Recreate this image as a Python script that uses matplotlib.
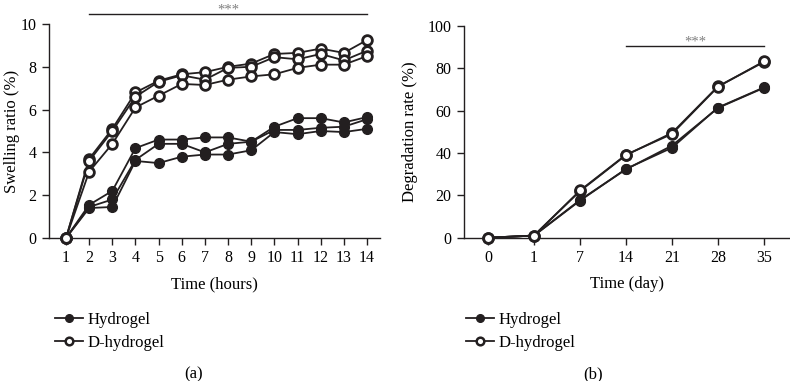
import matplotlib
matplotlib.use("Agg")
import matplotlib.pyplot as plt
from matplotlib.lines import Line2D

plt.rcParams['font.family'] = ['Liberation Serif', 'DejaVu Serif']
plt.rcParams['font.size'] = 12

INK = '#231f20'

# swelling ratio (%) vs time (hours), three replicates per group
hours = list(range(1, 15))
hydrogel_1 = [0, 1.55, 2.2, 4.2, 4.6, 4.6, 4.7, 4.7, 4.5, 5.2, 5.6, 5.6, 5.4, 5.65]
hydrogel_2 = [0, 1.45, 1.8, 3.65, 4.4, 4.4, 4.0, 4.4, 4.5, 5.05, 5.05, 5.15, 5.2, 5.55]
hydrogel_3 = [0, 1.4, 1.45, 3.6, 3.5, 3.8, 3.9, 3.9, 4.1, 4.95, 4.85, 5.0, 4.95, 5.1]
dhydrogel_1 = [0, 3.7, 5.1, 6.8, 7.35, 7.65, 7.75, 8.0, 8.15, 8.6, 8.65, 8.85, 8.65, 9.25]
dhydrogel_2 = [0, 3.6, 5.0, 6.6, 7.3, 7.6, 7.4, 7.95, 8.0, 8.45, 8.35, 8.6, 8.3, 8.75]
dhydrogel_3 = [0, 3.1, 4.4, 6.1, 6.65, 7.2, 7.15, 7.4, 7.55, 7.65, 7.95, 8.1, 8.1, 8.5]

# degradation rate (%) vs time (day), two replicates per group
days = ['0', '1', '7', '14', '21', '28', '35']
deg_hydrogel_1 = [0, 1, 17.5, 32.5, 42.5, 61.5, 71]
deg_hydrogel_2 = [0, 1, 17.8, 32.3, 43.5, 61.3, 70.8]
deg_dhydrogel_1 = [0, 1, 22, 39, 49.5, 71.5, 83]
deg_dhydrogel_2 = [0, 1, 22.3, 39.2, 49, 71.3, 83.3]

fig = plt.figure(figsize=(7.9, 3.81), dpi=100)
ax1 = fig.add_axes([49 / 790, 143 / 381, 331 / 790, 214 / 381])
ax2 = fig.add_axes([464 / 790, 143.3 / 381, 325 / 790, 211.7 / 381])

filled = dict(color=INK, lw=1.3, marker='o', ms=7, mfc=INK, mec=INK, clip_on=False, zorder=3)
hollow = dict(color=INK, lw=1.3, marker='o', ms=7, mfc='white', mec=INK, mew=2.0, clip_on=False, zorder=3)

for ys in (hydrogel_1, hydrogel_2, hydrogel_3):
    ax1.plot(hours, ys, **filled)
for ys in (dhydrogel_1, dhydrogel_2, dhydrogel_3):
    ax1.plot(hours, ys, **hollow)

for ys in (deg_hydrogel_1, deg_hydrogel_2):
    ax2.plot(days, ys, **filled)
for ys in (deg_dhydrogel_1, deg_dhydrogel_2):
    ax2.plot(days, ys, **hollow)

for ax in (ax1, ax2):
    for s in ('top', 'right'):
        ax.spines[s].set_visible(False)
    for s in ('left', 'bottom'):
        ax.spines[s].set_color(INK)
        ax.spines[s].set_linewidth(1.0)
    ax.tick_params(direction='out', length=5, width=1.0, color=INK, pad=4, labelsize=11.5)

ax1.set_xlim(1 - 17 / 23.15, 14 + 13 / 23.15)
ax1.set_ylim(0, 10)
ax1.set_xticks(hours)
ax1.set_yticks([0, 2, 4, 6, 8, 10])
ax1.set_xlabel('Time (hours)', labelpad=7)
ax1.set_ylabel('Swelling ratio (%)')
ax1.yaxis.set_label_coords(-0.088, 0.5)
ax1.plot([2, 14], [10.47, 10.47], color=INK, lw=1.0, clip_on=False)
ax1.text(8, 10.5, '***', ha='center', va='baseline', color='#808080', fontsize=10.5)

ax2.set_xlim(-24 / 46, 6 + 25 / 46)
ax2.set_ylim(0, 100)
ax2.set_yticks([0, 20, 40, 60, 80, 100])
ax2.set_xlabel('Time (day)', labelpad=7)
ax2.set_ylabel('Degradation rate (%)')
ax2.yaxis.set_label_coords(-0.14, 0.5)
ax2.plot([3, 6], [90.5, 90.5], color=INK, lw=1.0, clip_on=False)
ax2.text(4.5, 91, '***', ha='center', va='baseline', color='#808080', fontsize=10.5)

handles = [
    Line2D([], [], color=INK, lw=1.3, marker='o', ms=5.5, mfc=INK, mec=INK),
    Line2D([], [], color=INK, lw=1.3, marker='o', ms=5.5, mfc='white', mec=INK, mew=1.8),
]
for x0 in (48 / 790, 459 / 790):
    fig.legend(handles, ['Hydrogel', 'D-hydrogel'], loc='upper left',
               bbox_to_anchor=(x0, 76 / 381), frameon=False, handlelength=1.7,
               handletextpad=0.3, labelspacing=0.45, fontsize=12, borderaxespad=0)

fig.text(194 / 790, 7 / 381, '(a)', ha='center', va='center', fontsize=12)
fig.text(593 / 790, 7 / 381, '(b)', ha='center', va='center', fontsize=12)

fig.savefig('out.png', dpi=100)
